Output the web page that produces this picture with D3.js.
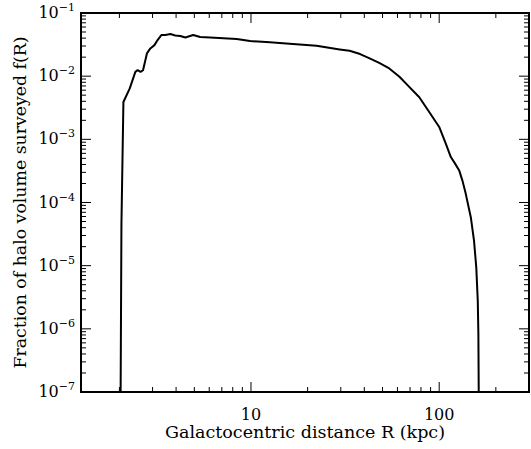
<!DOCTYPE html>
<html>
<head>
<meta charset="utf-8">
<script src="https://cdn.jsdelivr.net/npm/d3@7"></script>
<style>
  body { margin: 0; background: #fff; }
  text { font-family: "DejaVu Serif", serif; fill: #000; }
</style>
</head>
<body>
<div id="chart"></div>
<script>
// Data: distance R (kpc) and surveyed fraction f(R)
var radius = [2.03, 2.05, 2.10, 2.27, 2.43, 2.50, 2.59, 2.67, 2.80, 2.92, 3.07, 3.19, 3.34, 3.51,
  3.73, 3.96, 4.21, 4.48, 4.93, 5.37, 6.07, 8.40, 9.88, 12.6, 16.7, 22.3, 29.6, 33.4, 38.0, 42.7,
  48.0, 54.3, 61.5, 69.3, 78.4, 88.5, 100, 108.4, 115.3, 121.0, 127.7, 133.0, 138.4, 147.2, 153.1,
  157.4, 160.3, 161.5, 162.2];
var fraction = [1e-7, 4.6e-5, 3.9e-3, 6.4e-3, 0.0117, 0.01245, 0.0117, 0.0124, 0.0229, 0.0275,
  0.0310, 0.0373, 0.0448, 0.0448, 0.0464, 0.0440, 0.0432, 0.0409, 0.0448, 0.0416, 0.0411,
  0.0387, 0.0360, 0.0343, 0.0322, 0.0303, 0.0265, 0.0252, 0.0224, 0.0191, 0.0162, 0.01325,
  9.8e-3, 6.76e-3, 4.64e-3, 2.71e-3, 1.57e-3, 8.55e-4, 5.24e-4, 4.2e-4, 3.22e-4, 2.2e-4, 1.37e-4,
  5.85e-5, 2.49e-5, 9.4e-6, 2.78e-6, 8.3e-7, 1e-7];

var xLabels = [10, 100];
var yExponents = [-7, -6, -5, -4, -3, -2, -1];

var margin = {top: 13, right: 2, bottom: 57, left: 81};
var width = 531 - margin.left - margin.right;
var height = 449 - margin.top - margin.bottom;

var x = d3.scaleLog().domain([1.25, 300]).range([0, width]);
var y = d3.scaleLog().domain([1e-7, 1e-1]).range([height, 0]);

var svg = d3.select("#chart").append("svg")
    .attr("width", 531)
    .attr("height", 449);

var g = svg.append("g")
    .attr("transform", "translate(" + margin.left + "," + margin.top + ")");

g.append("clipPath").attr("id", "clip")
  .append("rect").attr("width", width).attr("height", height);

// tick positions
var xMajor = [10, 100];
var xMinor = [2, 3, 4, 5, 6, 7, 8, 9, 20, 30, 40, 50, 60, 70, 80, 90, 200];
var yMajor = yExponents.map(function(e) { return Math.pow(10, e); });
var yMinor = [];
yExponents.slice(0, -1).forEach(function(e) {
  for (var k = 2; k <= 9; k++) yMinor.push(k * Math.pow(10, e));
});

function xTicks(vals, len) {
  vals.forEach(function(v) {
    g.append("line").attr("x1", x(v)).attr("x2", x(v)).attr("y1", height).attr("y2", height - len)
      .attr("stroke", "#000").attr("stroke-width", 1);
    g.append("line").attr("x1", x(v)).attr("x2", x(v)).attr("y1", 0).attr("y2", len)
      .attr("stroke", "#000").attr("stroke-width", 1);
  });
}
function yTicks(vals, len) {
  vals.forEach(function(v) {
    g.append("line").attr("x1", 0).attr("x2", len).attr("y1", y(v)).attr("y2", y(v))
      .attr("stroke", "#000").attr("stroke-width", 1);
    g.append("line").attr("x1", width).attr("x2", width - len).attr("y1", y(v)).attr("y2", y(v))
      .attr("stroke", "#000").attr("stroke-width", 1);
  });
}
xTicks(xMajor, 10);
xTicks(xMinor, 5);
yTicks(yMajor, 10);
yTicks(yMinor, 5);

// curve
var line = d3.line()
    .x(function(d) { return x(d[0]); })
    .y(function(d) { return y(d[1]); });

g.append("path")
    .datum(d3.zip(radius, fraction))
    .attr("clip-path", "url(#clip)")
    .attr("fill", "none")
    .attr("stroke", "#000")
    .attr("stroke-width", 2)
    .attr("stroke-linejoin", "round")
    .attr("d", line);

// frame
g.append("rect")
    .attr("width", width).attr("height", height)
    .attr("fill", "none").attr("stroke", "#000").attr("stroke-width", 2);

// x tick labels
g.selectAll(".xlab").data(xLabels).enter().append("text")
    .attr("x", function(d) { return x(d); })
    .attr("y", height + 28)
    .attr("text-anchor", "middle")
    .style("font-size", "16px")
    .text(function(d) { return d; });

// y tick labels 10^n
var yl = g.selectAll(".ylab").data(yExponents).enter().append("text")
    .attr("x", -6)
    .attr("y", function(d) { return y(Math.pow(10, d)) + 5; })
    .attr("text-anchor", "end")
    .style("font-size", "16px");
yl.append("tspan").text("10");
yl.append("tspan").attr("dy", -7).style("font-size", "11px")
    .text(function(d) { return "\u2212" + (-d); });

// axis titles
svg.append("text")
    .attr("x", margin.left + width / 2)
    .attr("y", 438)
    .attr("text-anchor", "middle")
    .attr("textLength", 280)
    .attr("lengthAdjust", "spacingAndGlyphs")
    .style("font-size", "16px")
    .text("Galactocentric distance R (kpc)");

svg.append("text")
    .attr("transform", "translate(26," + (margin.top + height / 2) + ") rotate(-90)")
    .attr("text-anchor", "middle")
    .attr("textLength", 332)
    .attr("lengthAdjust", "spacingAndGlyphs")
    .style("font-size", "16px")
    .text("Fraction of halo volume surveyed f(R)");
</script>
</body>
</html>
